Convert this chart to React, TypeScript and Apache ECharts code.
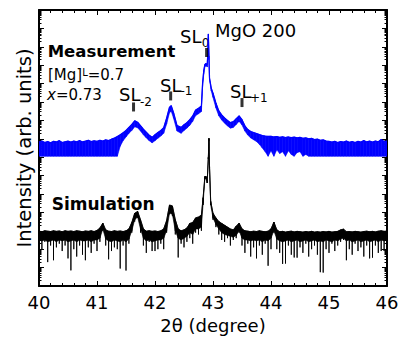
import React, { useEffect, useRef } from "react";
import * as echarts from "echarts";

// Measurement (blue): 2theta (deg), upper / lower envelope of the noisy trace, log10(intensity)
const measX = [
  40.0, 40.05, 40.1, 40.15, 40.2, 40.25, 40.3, 40.35, 40.4, 40.45, 40.5, 40.55, 40.6, 40.65, 40.7, 40.75,
  40.8, 40.85, 40.9, 40.95, 41.0, 41.05, 41.1, 41.15, 41.2, 41.25, 41.3, 41.35, 41.4, 41.45, 41.5, 41.55,
  41.6, 41.65, 41.7, 41.75, 41.8, 41.85, 41.9, 41.95, 42.0, 42.05, 42.1, 42.15, 42.2, 42.25, 42.28, 42.32,
  42.38, 42.45, 42.5, 42.55, 42.6, 42.65, 42.7, 42.75, 42.8, 42.82, 42.84, 42.86, 42.88, 42.9, 42.91, 42.92,
  42.93, 42.94, 42.97, 43.0, 43.05, 43.1, 43.15, 43.2, 43.25, 43.3, 43.35, 43.4, 43.45, 43.5, 43.55, 43.6,
  43.65, 43.7, 43.75, 43.8, 43.85, 43.9, 43.95, 44.0, 44.05, 44.1, 44.15, 44.2, 44.25, 44.3, 44.35, 44.4,
  44.45, 44.5, 44.55, 44.6, 44.65, 44.7, 44.75, 44.8, 44.85, 44.9, 44.95, 45.0, 45.05, 45.1, 45.15, 45.2,
  45.25, 45.3, 45.35, 45.4, 45.45, 45.5, 45.55, 45.6, 45.65, 45.7, 45.75, 45.8, 45.85, 45.9, 45.95, 46.0,
];
const measHi = [
  7.82, 7.88, 7.8, 7.85, 7.78, 7.86, 7.83, 7.9, 7.8, 7.84, 7.87, 7.82, 7.88, 7.84, 7.9, 7.83,
  7.87, 7.92, 7.85, 7.89, 7.86, 7.92, 7.88, 7.94, 7.9, 7.98, 8.04, 8.12, 8.22, 8.33, 8.45, 8.62,
  8.78, 8.98, 8.9, 8.72, 8.52, 8.36, 8.2, 8.08, 8.22, 8.34, 8.45, 8.6, 9.12, 9.72, 9.8, 9.42,
  8.72, 8.62, 8.76, 8.88, 9.04, 9.24, 9.56, 9.66, 9.78, 11.0, 11.7, 12.04, 12.09, 12.02, 12.6, 13.7,
  12.5, 11.3, 10.75, 10.48, 9.95, 9.52, 9.3, 9.14, 9.0, 8.88, 8.93, 9.09, 9.25, 9.04, 8.71, 8.5,
  8.4, 8.34, 8.29, 8.23, 8.18, 8.15, 8.13, 8.14, 8.1, 8.12, 8.08, 8.11, 8.07, 8.1, 8.06, 8.09,
  8.05, 8.08, 8.03, 8.05, 8.0, 8.02, 7.96, 7.98, 7.92, 7.94, 7.88, 7.86, 7.82, 7.86, 7.8, 7.85,
  7.82, 7.88, 7.81, 7.85, 7.8, 7.86, 7.82, 7.9, 7.83, 7.87, 7.82, 7.88, 7.84, 7.96, 7.85, 7.88,
];
const measLo = [
  7.05, 7.05, 7.05, 7.05, 7.05, 7.05, 7.05, 7.05, 7.05, 7.05, 7.05, 7.05, 7.05, 7.05, 7.05, 7.05,
  7.05, 7.05, 7.05, 7.05, 7.05, 7.05, 7.05, 7.05, 7.05, 7.05, 7.05, 7.05, 7.6, 7.9, 8.1, 8.3,
  8.45, 8.65, 8.6, 8.42, 8.22, 8.05, 7.9, 7.78, 7.9, 8.03, 8.15, 8.3, 8.8, 9.42, 9.5, 9.12,
  8.42, 8.3, 8.45, 8.58, 8.74, 8.95, 9.26, 9.36, 9.48, 10.8, 11.5, 11.9, 12.0, 11.9, 12.4, 13.6,
  12.3, 11.2, 10.6, 10.25, 9.68, 9.25, 9.02, 8.85, 8.7, 8.58, 8.62, 8.78, 8.95, 8.75, 8.42, 8.2,
  8.05, 7.95, 7.85, 7.7, 7.5, 7.3, 7.05, 7.35, 7.05, 7.4, 7.2, 7.3, 7.05, 7.35, 7.15, 7.05,
  7.25, 7.3, 7.05, 7.15, 7.05, 7.05, 7.05, 7.05, 7.05, 7.05, 7.05, 7.05, 7.05, 7.05, 7.05, 7.05,
  7.05, 7.05, 7.05, 7.05, 7.05, 7.05, 7.05, 7.05, 7.05, 7.05, 7.05, 7.05, 7.05, 7.05, 7.05, 7.05,
];

// Simulation (black): top of trace, bottom of the dense noise band, tips of the downward spikes
const simX = [
  40.0, 40.05, 40.1, 40.15, 40.2, 40.25, 40.3, 40.35, 40.4, 40.45, 40.5, 40.55, 40.6, 40.65, 40.7, 40.75,
  40.8, 40.85, 40.9, 40.95, 41.0, 41.05, 41.1, 41.15, 41.2, 41.25, 41.3, 41.35, 41.4, 41.45, 41.5, 41.55,
  41.6, 41.65, 41.7, 41.75, 41.8, 41.85, 41.9, 41.95, 42.0, 42.05, 42.1, 42.15, 42.2, 42.25, 42.3, 42.35,
  42.4, 42.45, 42.5, 42.55, 42.6, 42.65, 42.7, 42.75, 42.8, 42.83, 42.86, 42.88, 42.9, 42.92, 42.93, 42.94,
  42.96, 43.0, 43.05, 43.1, 43.15, 43.2, 43.25, 43.3, 43.35, 43.4, 43.45, 43.5, 43.55, 43.6, 43.65, 43.7,
  43.75, 43.8, 43.85, 43.9, 43.95, 44.0, 44.05, 44.1, 44.15, 44.2, 44.25, 44.3, 44.35, 44.4, 44.45, 44.5,
  44.55, 44.6, 44.65, 44.7, 44.75, 44.8, 44.85, 44.9, 44.95, 45.0, 45.05, 45.1, 45.15, 45.2, 45.25, 45.3,
  45.35, 45.4, 45.45, 45.5, 45.55, 45.6, 45.65, 45.7, 45.75, 45.8, 45.85, 45.9, 45.95, 46.0,
];
const simHi = [
  2.98, 2.95, 3.0, 2.98, 2.96, 3.0, 2.97, 2.99, 2.95, 3.0, 2.97, 2.99, 2.96, 3.0, 2.98, 2.95,
  2.99, 2.97, 3.0, 2.96, 3.02, 3.15, 3.41, 3.05, 2.98, 2.96, 3.0, 2.97, 2.99, 2.96, 3.0, 3.1,
  3.45, 3.95, 4.05, 3.6, 3.1, 2.98, 3.0, 2.97, 2.99, 2.96, 3.0, 3.1, 3.55, 4.4, 4.35, 3.6,
  3.1, 3.0, 3.05, 3.15, 3.4, 3.45, 3.7, 3.75, 3.85, 4.8, 5.95, 5.95, 5.7, 7.0, 8.02, 6.5,
  4.6, 3.95, 3.7, 3.5, 3.4, 3.3, 3.2, 3.1, 3.05, 3.25, 3.41, 3.1, 3.0, 2.98, 2.95, 2.98,
  2.96, 3.0, 2.97, 2.95, 2.98, 3.1, 3.47, 3.05, 2.95, 2.97, 2.93, 2.96, 2.98, 2.94, 2.97, 2.95,
  2.93, 2.96, 2.94, 2.97, 2.93, 2.95, 2.93, 2.96, 2.94, 2.97, 2.93, 2.95, 2.97, 3.05, 3.09, 2.95,
  2.96, 2.94, 2.97, 2.95, 2.93, 2.96, 2.98, 2.95, 2.97, 2.94, 2.98, 3.0, 2.97, 2.98,
];
const simFloor = [
  2.5, 2.45, 2.5, 2.4, 2.45, 2.5, 2.4, 2.5, 2.45, 2.5, 2.4, 2.45, 2.5, 2.4, 2.5, 2.45,
  2.45, 2.5, 2.4, 2.5, 2.5, 2.6, 3.1, 2.55, 2.45, 2.4, 2.5, 2.45, 2.4, 2.5, 2.4, 2.55,
  3.0, 3.6, 3.75, 3.1, 2.6, 2.45, 2.5, 2.4, 2.45, 2.5, 2.5, 2.6, 3.0, 3.95, 3.9, 3.0,
  2.6, 2.5, 2.6, 2.7, 2.9, 2.8, 3.1, 3.1, 3.2, 4.5, 5.85, 5.85, 5.6, 6.9, 7.9, 6.4,
  4.4, 3.7, 3.35, 3.1, 2.9, 2.8, 2.75, 2.7, 2.65, 2.75, 3.0, 2.6, 2.5, 2.5, 2.45, 2.5,
  2.45, 2.5, 2.4, 2.5, 2.45, 2.6, 3.0, 2.55, 2.45, 2.4, 2.45, 2.5, 2.4, 2.45, 2.5, 2.4,
  2.45, 2.5, 2.4, 2.45, 2.5, 2.4, 2.45, 2.4, 2.5, 2.45, 2.4, 2.5, 2.45, 2.55, 2.6, 2.45,
  2.5, 2.4, 2.45, 2.5, 2.4, 2.45, 2.5, 2.4, 2.45, 2.5, 2.4, 2.5, 2.45, 2.5,
];
const simLo = [
  2.3, 2.0, 2.4, 1.3, 2.2, 1.4, 2.1, 2.3, 1.9, 2.2, 1.5, 0.85, 2.0, 1.6, 2.2, 1.7,
  1.4, 2.1, 1.8, 2.3, 1.9, 2.4, 3.0, 2.2, 1.45, 1.9, 2.1, 2.0, 0.95, 2.2, 0.84, 2.3,
  2.9, 3.5, 3.7, 2.9, 2.2, 1.8, 2.4, 1.9, 1.9, 2.0, 2.3, 2.0, 2.9, 3.9, 3.8, 2.8,
  1.55, 2.3, 2.1, 2.4, 2.6, 2.3, 2.9, 2.8, 3.0, 4.4, 5.8, 5.85, 5.6, 6.9, 7.9, 6.4,
  4.4, 3.6, 3.2, 2.8, 2.5, 2.4, 2.6, 2.2, 2.5, 2.6, 2.9, 2.2, 1.8, 2.3, 1.6, 2.1,
  1.5, 2.2, 1.7, 2.3, 1.1, 2.0, 2.9, 2.0, 1.8, 1.2, 1.22, 2.2, 1.7, 1.55, 1.54, 2.1,
  1.8, 2.3, 1.6, 2.0, 2.2, 1.7, 0.75, 0.73, 2.0, 1.8, 2.3, 1.9, 2.2, 2.4, 2.5, 1.4,
  2.0, 1.7, 2.3, 1.9, 2.1, 1.6, 2.2, 1.5, 1.54, 2.2, 1.8, 1.9, 1.9, 2.3,
];

// Superlattice satellite markers: position (deg) and height (log10 intensity)
const slDeg = [41.63, 42.27, 42.89, 43.5];
const slLevel = [9.73, 10.33, 12.69, 9.97];

const FONT = "DejaVu Sans";
const BLUE = "#0000ff";

const pairs = (xs: number[], vs: number[]) => xs.map((x, i) => [x, vs[i]]);
// one quadrilateral per sample interval, between the upper and lower envelope
const bandItems = (xs: number[], top: number[], bottom: number[]) =>
  xs.slice(0, -1).map((x, i) => [x, top[i], bottom[i], xs[i + 1], top[i + 1], bottom[i + 1]]);
// top -> spike tip -> top at each sample: a comb of downward noise spikes
const comb = (xs: number[], top: number[], tip: number[]) => {
  const out: number[][] = [];
  xs.forEach((x, i) => {
    out.push([x, top[i]], [x, tip[i]], [x, top[i]]);
  });
  return out;
};

const bandSeries = (items: number[][], color: string, z: number) => ({
  type: "custom",
  data: items,
  encode: { x: [0, 3], y: [1, 2, 4, 5] },
  clip: true,
  z,
  renderItem: (_p: any, api: any) => {
    const a = api.coord([api.value(0), api.value(1)]);
    const b = api.coord([api.value(3), api.value(4)]);
    const c = api.coord([api.value(3), api.value(5)]);
    const d = api.coord([api.value(0), api.value(2)]);
    return {
      type: "polygon",
      shape: { points: [a, b, c, d] },
      style: { fill: color, stroke: color, lineWidth: 0.6 },
      silent: true,
    };
  },
});

export default function App() {
  const ref = useRef<HTMLDivElement>(null);
  useEffect(() => {
    if (!ref.current) return;
    const chart = echarts.init(ref.current, undefined, { renderer: "svg" });
    const axisLine = { show: true, lineStyle: { color: "#000", width: 2 } };
    const xCommon = {
      type: "value" as const,
      min: 40,
      max: 46,
      interval: 1,
      axisLine,
      axisTick: { show: true, inside: true, length: 5, lineStyle: { color: "#000", width: 1 } },
      minorTick: { show: true, splitNumber: 5, length: 3, lineStyle: { color: "#000", width: 1 } },
      splitLine: { show: false },
    };
    // decorative log-scale axes (ticks only), same span as the data axis (10^0 .. 10^15)
    const logAxis = {
      type: "log" as const,
      logBase: 10,
      min: 1,
      max: 1e15,
      interval: 1,
      axisLine,
      axisTick: { show: true, inside: true, length: 5, lineStyle: { color: "#000", width: 1 } },
      minorTick: { show: true, splitNumber: 9, length: 2.5, lineStyle: { color: "#000", width: 1 } },
      splitLine: { show: false },
      axisLabel: { show: false },
    };
    const txt = (x: number, y: number, text: string, size: number, extra: any = {}) => ({
      type: "text",
      x,
      y,
      silent: true,
      style: {
        text,
        fontSize: size,
        fontFamily: FONT,
        fill: "#000",
        align: "left",
        verticalAlign: "middle",
        ...extra,
      },
    });
    const plain = { showSymbol: false, symbol: "none" };
    chart.setOption({
      animation: false,
      grid: { left: 39, right: 16, top: 10, bottom: 48.3, containLabel: false },
      xAxis: [
        {
          ...xCommon,
          position: "bottom",
          name: "2θ (degree)",
          nameLocation: "middle",
          nameGap: 30,
          nameTextStyle: { fontFamily: FONT, fontSize: 18, color: "#000" },
          axisLabel: { show: true, margin: 7, fontFamily: FONT, fontSize: 18, color: "#000" },
        },
        { ...xCommon, position: "top", axisLabel: { show: false } },
      ],
      yAxis: [
        // data axis: log10(intensity)
        {
          type: "value",
          min: 0,
          max: 15,
          interval: 1,
          show: false,
          splitLine: { show: false },
        },
        {
          ...logAxis,
          position: "left",
          name: "Intensity (arb. units)",
          nameLocation: "middle",
          nameGap: 5,
          nameTextStyle: { fontFamily: FONT, fontSize: 19.5, color: "#000" },
        },
        { ...logAxis, position: "right" },
      ],
      series: [
        bandSeries(bandItems(measX, measHi, measLo), BLUE, 3),
        {
          type: "line",
          ...plain,
          data: pairs(measX, measHi),
          lineStyle: { color: BLUE, width: 1.2 },
          z: 3,
        },
        bandSeries(bandItems(simX, simHi, simFloor), "#000", 2),
        {
          type: "line",
          ...plain,
          data: comb(simX, simHi, simLo),
          lineStyle: { color: "#000", width: 0.9 },
          z: 2,
        },
        {
          type: "scatter",
          data: pairs(slDeg, slLevel),
          symbol: "rect",
          symbolSize: [3, 9],
          itemStyle: { color: "#000" },
          z: 4,
        },
      ],
      graphic: [
        txt(47.7, 51, "Measurement", 16.5, { fontWeight: "bold" }),
        txt(48, 74.5, "[Mg]{sup|L}=0.7", 15, {
          rich: { sup: { fontSize: 10, fontFamily: FONT, verticalAlign: "top", fill: "#000" } },
        }),
        txt(47, 95, "{i|x}=0.73", 15, {
          rich: { i: { fontStyle: "italic", fontSize: 15, fontFamily: FONT, fill: "#000" } },
        }),
        txt(119, 94.7, "SL", 18),
        txt(140, 102, "-2", 12),
        txt(160, 85.4, "SL", 18),
        txt(180.5, 91, "-1", 12),
        txt(180, 36.7, "SL", 18),
        txt(201.7, 42.5, "0", 12),
        txt(215, 30, "MgO 200", 18),
        txt(230, 91.7, "SL", 18),
        txt(250, 97.5, "+1", 12),
        txt(51.7, 204, "Simulation", 17, { fontWeight: "bold" }),
      ],
    });
    return () => chart.dispose();
  }, []);
  return (
    <div
      ref={ref}
      style={{ position: "fixed", left: 0, top: 0, width: 403, height: 339, background: "#fff" }}
    />
  );
}
